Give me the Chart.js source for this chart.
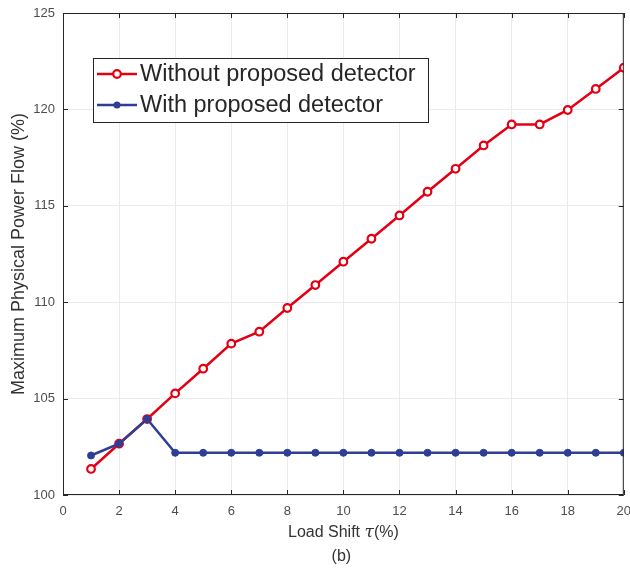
<!DOCTYPE html>
<html>
<head>
<meta charset="utf-8">
<script src="https://cdn.jsdelivr.net/npm/chart.js@4/dist/chart.umd.min.js"></script>
<style>
  html, body { margin: 0; padding: 0; background: #fff; }
  #wrap { width: 630px; height: 572px; }
</style>
</head>
<body>
<div id="wrap"><canvas id="grafica" width="630" height="572"></canvas></div>
<script>
const cargaShift = [1, 2, 3, 4, 5, 6, 7, 8, 9, 10, 11, 12, 13, 14, 15, 16, 17, 18, 19, 20];
const sinDetector = [101.35, 102.66, 103.94, 105.27, 106.55, 107.85, 108.47, 109.7, 110.89, 112.1,
                     113.29, 114.5, 115.73, 116.92, 118.13, 119.22, 119.22, 119.97, 121.06, 122.16];
const conDetector = [102.05, 102.66, 103.94, 102.19, 102.19, 102.19, 102.19, 102.19, 102.19, 102.19,
                     102.19, 102.19, 102.19, 102.19, 102.19, 102.19, 102.19, 102.19, 102.19, 102.19];
const etiquetas = ['Without proposed detector', 'With proposed detector'];
const xTicks = [0, 2, 4, 6, 8, 10, 12, 14, 16, 18, 20];
const yTicks = [100, 105, 110, 115, 120, 125];

const rojo = 'rgb(228, 0, 20)';
const azul = 'rgb(46, 62, 150)';
const gris = '#4d4d4d';
const fuente = 'Arial, "Liberation Sans", Helvetica, sans-serif';

function puntos(valores) {
    return cargaShift.map((x, i) => ({ x: x, y: valores[i] }));
}

// caja estilo matlab con marcas hacia dentro
const cajaPlugin = {
    id: 'caja',
    afterDatasetsDraw(chart) {
        const { ctx, chartArea: a, scales } = chart;
        ctx.save();
        ctx.strokeStyle = '#262626';
        ctx.lineWidth = 1;
        ctx.strokeRect(a.left + 0.5, a.top + 0.5, a.right - a.left - 1, a.bottom - a.top - 1);
        const len = 5;
        ctx.beginPath();
        xTicks.forEach(v => {
            const px = Math.round(scales.x.getPixelForValue(v)) + 0.5;
            ctx.moveTo(px, a.bottom); ctx.lineTo(px, a.bottom - len);
            ctx.moveTo(px, a.top); ctx.lineTo(px, a.top + len);
        });
        yTicks.forEach(v => {
            const py = Math.round(scales.y.getPixelForValue(v)) + 0.5;
            ctx.moveTo(a.left, py); ctx.lineTo(a.left + len, py);
            ctx.moveTo(a.right, py); ctx.lineTo(a.right - len, py);
        });
        ctx.stroke();
        ctx.restore();
    }
};

// titulo del eje x con tau en cursiva
const tituloXPlugin = {
    id: 'tituloX',
    afterDraw(chart) {
        const { ctx, chartArea: a } = chart;
        const partes = [
            { t: 'Load Shift ', f: '16px ' + fuente },
            { t: 'τ', f: 'italic 17px "DejaVu Serif", serif' },
            { t: '(%)', f: '16px ' + fuente }
        ];
        ctx.save();
        ctx.fillStyle = '#333';
        ctx.textBaseline = 'middle';
        let total = 0;
        partes.forEach(p => { ctx.font = p.f; p.w = ctx.measureText(p.t).width; total += p.w; });
        let x = (a.left + a.right) / 2 - total / 2;
        partes.forEach(p => { ctx.font = p.f; ctx.fillText(p.t, x, 533); x += p.w; });
        ctx.font = '16px ' + fuente;
        ctx.textAlign = 'center';
        ctx.fillText('(b)', (a.left + a.right) / 2 - 2, 557);
        ctx.restore();
    }
};

// leyenda dentro del area del grafico
const leyendaPlugin = {
    id: 'leyendaDentro',
    afterDraw(chart) {
        const { ctx } = chart;
        const x0 = 93, y0 = 58, w = 335, h = 64;
        ctx.save();
        ctx.fillStyle = '#fff';
        ctx.fillRect(x0, y0, w, h);
        ctx.strokeStyle = '#262626';
        ctx.lineWidth = 1;
        ctx.strokeRect(x0 + 0.5, y0 + 0.5, w, h);
        chart.data.datasets.forEach((ds, i) => {
            const yy = y0 + 16 + i * 31;
            ctx.strokeStyle = ds.borderColor;
            ctx.lineWidth = 2.5;
            ctx.beginPath();
            ctx.moveTo(x0 + 4, yy);
            ctx.lineTo(x0 + 44, yy);
            ctx.stroke();
            ctx.beginPath();
            ctx.arc(x0 + 24, yy, ds.pointRadius, 0, Math.PI * 2);
            if (ds.pointBackgroundColor !== '#fff') {
                ctx.fillStyle = ds.pointBackgroundColor;
                ctx.fill();
            } else {
                ctx.fillStyle = '#fff';
                ctx.fill();
                ctx.lineWidth = ds.pointBorderWidth;
                ctx.stroke();
            }
            ctx.fillStyle = '#262626';
            ctx.font = '23.5px ' + fuente;
            ctx.textBaseline = 'middle';
            ctx.fillText(ds.label, x0 + 47, yy + 1);
        });
        ctx.restore();
    }
};

const ctx = document.getElementById('grafica').getContext('2d');
new Chart(ctx, {
    type: 'line',
    data: {
        datasets: [
            {
                label: etiquetas[0],
                data: puntos(sinDetector),
                borderColor: rojo,
                backgroundColor: rojo,
                pointBackgroundColor: '#fff',
                pointBorderColor: rojo,
                pointRadius: 3.8,
                pointBorderWidth: 2.2,
                borderWidth: 2.5,
                fill: false,
                order: 2
            },
            {
                label: etiquetas[1],
                data: puntos(conDetector),
                borderColor: azul,
                backgroundColor: azul,
                pointBackgroundColor: azul,
                pointBorderColor: azul,
                pointRadius: 3.5,
                pointBorderWidth: 1,
                borderWidth: 2.5,
                fill: false,
                order: 1
            }
        ]
    },
    options: {
        responsive: false,
        animation: false,
        layout: { padding: { top: 13, right: 3, left: 0, bottom: 4 } },
        plugins: {
            legend: { display: false },
            tooltip: { enabled: false }
        },
        scales: {
            x: {
                type: 'linear',
                min: 0,
                max: 20,
                afterBuildTicks: s => { s.ticks = xTicks.map(v => ({ value: v })); },
                afterFit: s => { s.height = 73; s.paddingLeft = 0; s.paddingRight = 0; },
                grid: { color: '#ebebeb', drawTicks: false },
                border: { display: false },
                ticks: { color: gris, font: { family: fuente, size: 13 }, padding: 9, maxRotation: 0 },
                title: { display: false }
            },
            y: {
                min: 100,
                max: 125,
                afterBuildTicks: s => { s.ticks = yTicks.map(v => ({ value: v })); },
                afterFit: s => { s.width = 63; s.paddingTop = 0; s.paddingBottom = 0; },
                grid: { color: '#ebebeb', drawTicks: false },
                border: { display: false },
                ticks: { color: gris, font: { family: fuente, size: 13 }, padding: 8 },
                title: {
                    display: true,
                    text: 'Maximum Physical Power Flow (%)',
                    color: '#333',
                    font: { family: fuente, size: 18 },
                    padding: { top: 8, bottom: 4 }
                }
            }
        }
    },
    plugins: [cajaPlugin, leyendaPlugin, tituloXPlugin]
});
</script>
</body>
</html>
